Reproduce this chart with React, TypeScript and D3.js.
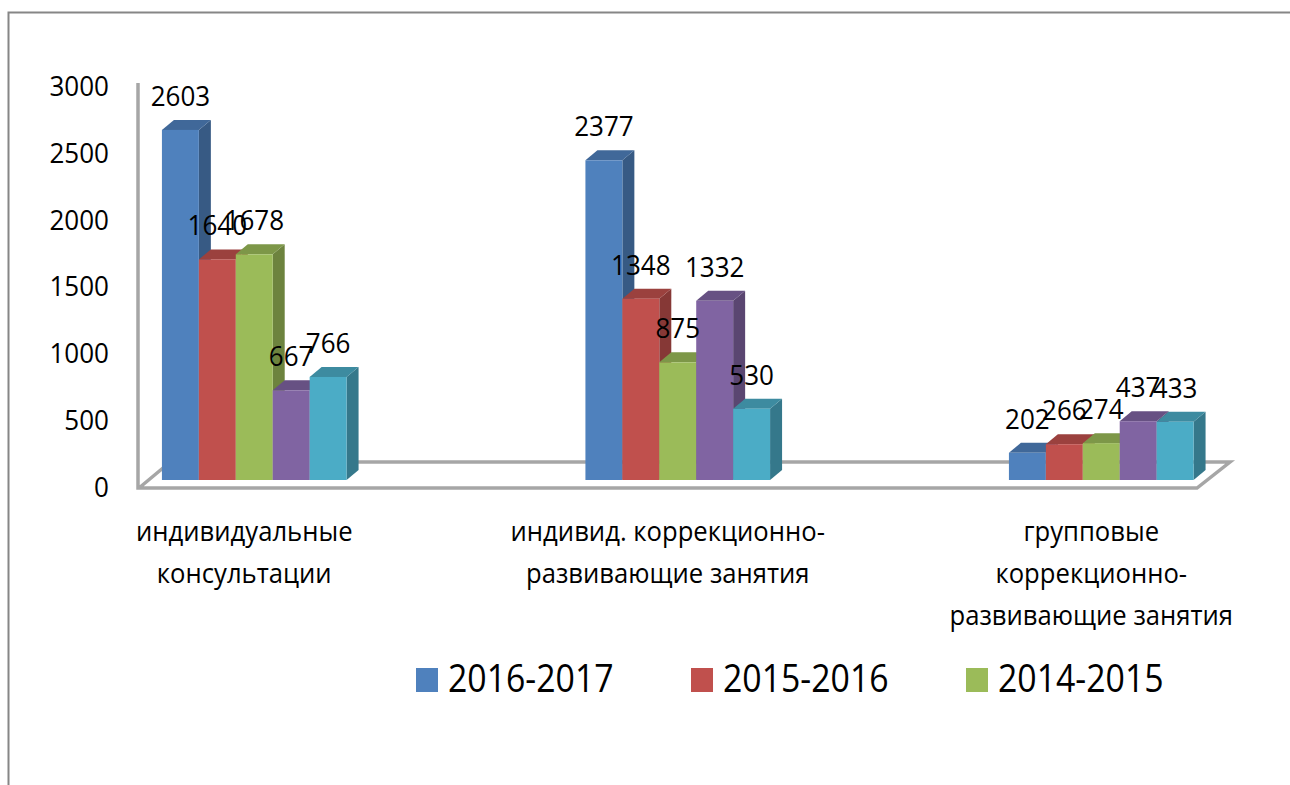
import * as d3 from 'd3';

const categories = [
  ['индивидуальные', 'консультации'],
  ['индивид. коррекционно-', 'развивающие занятия'],
  ['групповые', 'коррекционно-', 'развивающие занятия'],
];
const series2016 = [2603, 2377, 202];
const series2015 = [1640, 1348, 266];
const series2014 = [1678, 875, 274];
const series4 = [667, 1332, 437];
const series5 = [766, 530, 433];
const allSeries = [series2016, series2015, series2014, series4, series5];
const seriesColors = ['#4f81bd', '#c0504d', '#9bbb59', '#8064a2', '#4bacc6'];
const legendNames = ['2016-2017', '2015-2016', '2014-2015'];
const yTicks = [0, 500, 1000, 1500, 2000, 2500, 3000];

const FONT = '"Open Sans", sans-serif';
const AXIS_COLOR = '#a6a6a6';
const DEPTH_X = 12;
const DEPTH_Y = 10;

const x0 = d3.scaleBand<number>()
  .domain([0, 1, 2])
  .range([42.5, 1313])
  .paddingInner(0.564)
  .paddingOuter(0.282);
const x1 = d3.scaleBand<number>()
  .domain(d3.range(allSeries.length))
  .range([0, x0.bandwidth()]);
const yBar = d3.scaleLinear().domain([0, 3000]).range([480, 76.5]);
const yAxis = d3.scaleLinear().domain([0, 3000]).range([486, 85]);

const Label = ({ x, y, size, sx = 0.9, anchor = 'middle', children }: any) => (
  <text
    transform={`translate(${x},${y}) scale(${sx},1)`}
    textAnchor={anchor}
    dominantBaseline="central"
    fontFamily={FONT}
    fontSize={size}
    fill="#000"
  >
    {children}
  </text>
);

const App = () => {
  const bars = allSeries.flatMap((values, s) =>
    values.map((v, c) => ({
      s,
      c,
      v,
      x: (x0(c) as number) + (x1(s) as number),
      y: yBar(v),
    }))
  );

  return (
    <div style={{ position: 'absolute', left: 0, top: 0 }}>
      <svg width={1290} height={785} style={{ display: 'block', background: '#fff' }}>
        {/* outer frame, cropped at the right and bottom */}
        <path d="M8.5,785V12.5H1290" fill="none" stroke="#868686" strokeWidth={2} />

        {/* axis and floor */}
        <path
          d={`M138,${yAxis(3000) - 2}V488H1197L1230,462H347M139,488L163,468`}
          fill="none"
          stroke={AXIS_COLOR}
          strokeWidth={3.5}
        />

        {yTicks.map(t => (
          <Label key={t} x={109} y={yAxis(t)} size={28} sx={0.93} anchor="end">
            {t}
          </Label>
        ))}

        {/* bars, left to right so each one covers the side of the previous */}
        {bars.map(d => {
          const w = x1.bandwidth();
          const base = yBar(0);
          const color = seriesColors[d.s];
          return (
            <g key={`${d.c}-${d.s}`}>
              <path
                d={`M${d.x + w},${d.y}l${DEPTH_X},${-DEPTH_Y}V${base - DEPTH_Y}l${-DEPTH_X},${DEPTH_Y}Z`}
                fill={d3.color(color)!.darker(1).toString()}
              />
              <path
                d={`M${d.x},${d.y}l${DEPTH_X},${-DEPTH_Y}h${w}l${-DEPTH_X},${DEPTH_Y}Z`}
                fill={d3.color(color)!.darker(0.6).toString()}
              />
              <rect x={d.x} y={d.y} width={w} height={base - d.y} fill={color} />
            </g>
          );
        })}

        {bars.map(d => (
          <Label
            key={`l-${d.c}-${d.s}`}
            x={d.x + x1.bandwidth() / 2}
            y={d.y - 35}
            size={28}
            sx={0.93}
          >
            {d.v}
          </Label>
        ))}

        {categories.map((lines, c) =>
          lines.map((line, i) => (
            <Label
              key={line + c}
              x={(x0(c) as number) + x0.bandwidth() / 2 - 10}
              y={531 + i * 42}
              size={27}
              sx={0.95}
            >
              {line}
            </Label>
          ))
        )}

        {legendNames.map((name, i) => {
          const lx = 416 + i * 275;
          return (
            <g key={name}>
              <rect x={lx} y={668} width={22} height={24} fill={seriesColors[i]} />
              <Label x={lx + 32} y={678} size={38} sx={0.89} anchor="start">
                {name}
              </Label>
            </g>
          );
        })}
      </svg>
    </div>
  );
};

export default App;
